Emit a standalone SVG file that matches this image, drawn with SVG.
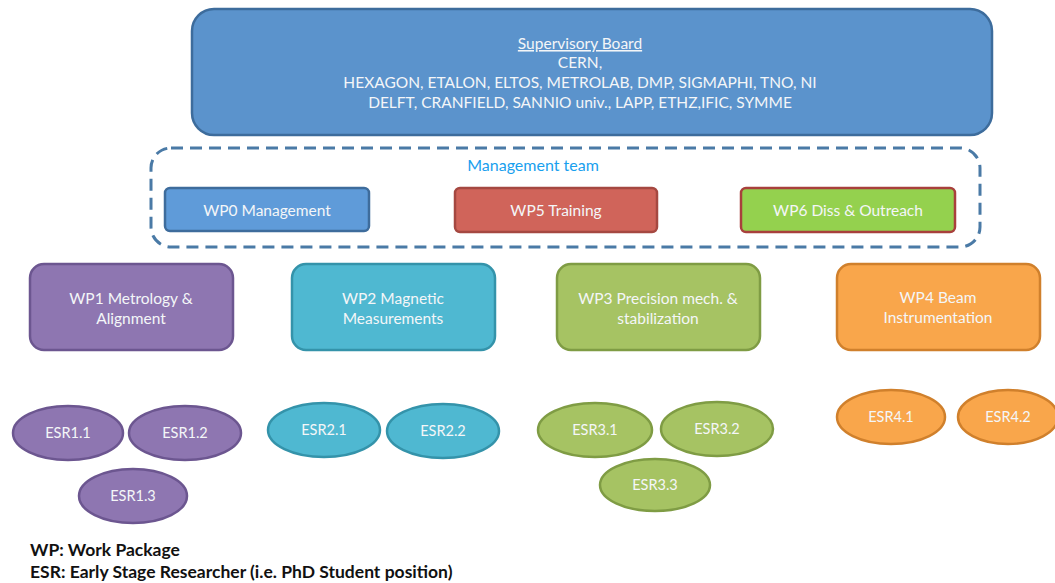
<svg xmlns="http://www.w3.org/2000/svg" width="1055" height="583" viewBox="0 0 1055 583">
<style>
text{font-family:Lato,"Open Sans","Liberation Sans",sans-serif;text-anchor:middle;fill:#f4f6f8;font-size:15.5px}
.esr{font-size:14.5px}
.box{stroke-width:2.5}
.ell{stroke-width:2.5}
.legend{fill:#111;text-anchor:start;font-weight:bold;font-size:17.5px}
</style>
<rect width="1055" height="583" fill="#ffffff"/>
<g id="supervisory-board">
<rect x="192" y="9" width="800" height="126" rx="22" fill="#5b93cc" stroke="#3d6c9c" class="box"/>
<text x="580" y="49" text-decoration="underline">Supervisory Board</text>
<text x="580" y="68">CERN,</text>
<text x="580" y="88">HEXAGON, ETALON, ELTOS, METROLAB, DMP, SIGMAPHI, TNO,  NI</text>
<text x="580" y="108">DELFT, CRANFIELD, SANNIO univ., LAPP, ETHZ,IFIC, SYMME</text>
</g>
<g id="management-team">
<rect x="151" y="148" width="829" height="99" rx="20" fill="none" stroke="#4a7aa6" stroke-width="3" stroke-dasharray="12 7"/>
<text x="533" y="171" style="fill:#18a0ee;font-size:16px">Management team</text>
</g>
<g id="wp0">
<rect x="165" y="188" width="204" height="43" rx="5" fill="#5f9bd9" stroke="#3e6c9c" class="box"/>
<text x="267" y="216">WP0 Management</text>
</g>
<g id="wp5">
<rect x="455" y="188" width="202" height="44" rx="5" fill="#d0645a" stroke="#a54841" class="box"/>
<text x="556" y="216">WP5 Training</text>
</g>
<g id="wp6">
<rect x="741" y="188" width="214" height="44" rx="5" fill="#94d14e" stroke="#a8403c" class="box"/>
<text x="848" y="216">WP6 Diss &amp; Outreach</text>
</g>
<g id="wp1">
<rect x="30" y="264" width="203" height="86" rx="14" fill="#8e76b1" stroke="#6c5690" class="box"/>
<text x="131" y="304">WP1 Metrology &amp;</text>
<text x="131" y="324">Alignment</text>
</g>
<g id="wp2">
<rect x="292" y="264" width="203" height="86" rx="14" fill="#4fb8d1" stroke="#3493aa" class="box"/>
<text x="393" y="304">WP2 Magnetic</text>
<text x="393" y="324">Measurements</text>
</g>
<g id="wp3">
<rect x="557" y="264" width="203" height="86" rx="14" fill="#a6c363" stroke="#7f9c44" class="box"/>
<text x="658" y="304">WP3 Precision mech. &amp;</text>
<text x="658" y="324">stabilization</text>
</g>
<g id="wp4">
<rect x="837" y="264" width="203" height="86" rx="14" fill="#f9a64b" stroke="#d0802c" class="box"/>
<text x="938" y="303">WP4 Beam</text>
<text x="938" y="323">Instrumentation</text>
</g>
<g id="esr1-1"><ellipse cx="68" cy="433" rx="55" ry="27" fill="#8e76b1" stroke="#6c5690" class="ell"/><text x="68" y="438" class="esr">ESR1.1</text></g>
<g id="esr1-2"><ellipse cx="185" cy="433" rx="56" ry="27" fill="#8e76b1" stroke="#6c5690" class="ell"/><text x="185" y="438" class="esr">ESR1.2</text></g>
<g id="esr1-3"><ellipse cx="133" cy="496" rx="54" ry="27" fill="#8e76b1" stroke="#6c5690" class="ell"/><text x="133" y="501" class="esr">ESR1.3</text></g>
<g id="esr2-1"><ellipse cx="324" cy="430" rx="56" ry="27" fill="#4fb8d1" stroke="#3493aa" class="ell"/><text x="324" y="435" class="esr">ESR2.1</text></g>
<g id="esr2-2"><ellipse cx="443" cy="431" rx="56" ry="27" fill="#4fb8d1" stroke="#3493aa" class="ell"/><text x="443" y="436" class="esr">ESR2.2</text></g>
<g id="esr3-1"><ellipse cx="595" cy="430" rx="57" ry="27" fill="#a6c363" stroke="#7f9c44" class="ell"/><text x="595" y="435" class="esr">ESR3.1</text></g>
<g id="esr3-2"><ellipse cx="717" cy="429" rx="56" ry="27" fill="#a6c363" stroke="#7f9c44" class="ell"/><text x="717" y="434" class="esr">ESR3.2</text></g>
<g id="esr3-3"><ellipse cx="655" cy="485" rx="55" ry="26" fill="#a6c363" stroke="#7f9c44" class="ell"/><text x="655" y="490" class="esr">ESR3.3</text></g>
<g id="esr4-1"><ellipse cx="891" cy="417" rx="54" ry="27" fill="#f9a64b" stroke="#d0802c" class="ell"/><text x="891" y="422" class="esr">ESR4.1</text></g>
<g id="esr4-2"><ellipse cx="1008" cy="417" rx="50" ry="27" fill="#f9a64b" stroke="#d0802c" class="ell"/><text x="1008" y="422" class="esr">ESR4.2</text></g>
<g id="connectors"></g>
<g id="legend">
<text x="30" y="556" class="legend">WP: Work Package</text>
<text x="30" y="578" class="legend">ESR: Early Stage Researcher (i.e. PhD Student position)</text>
</g>
</svg>
